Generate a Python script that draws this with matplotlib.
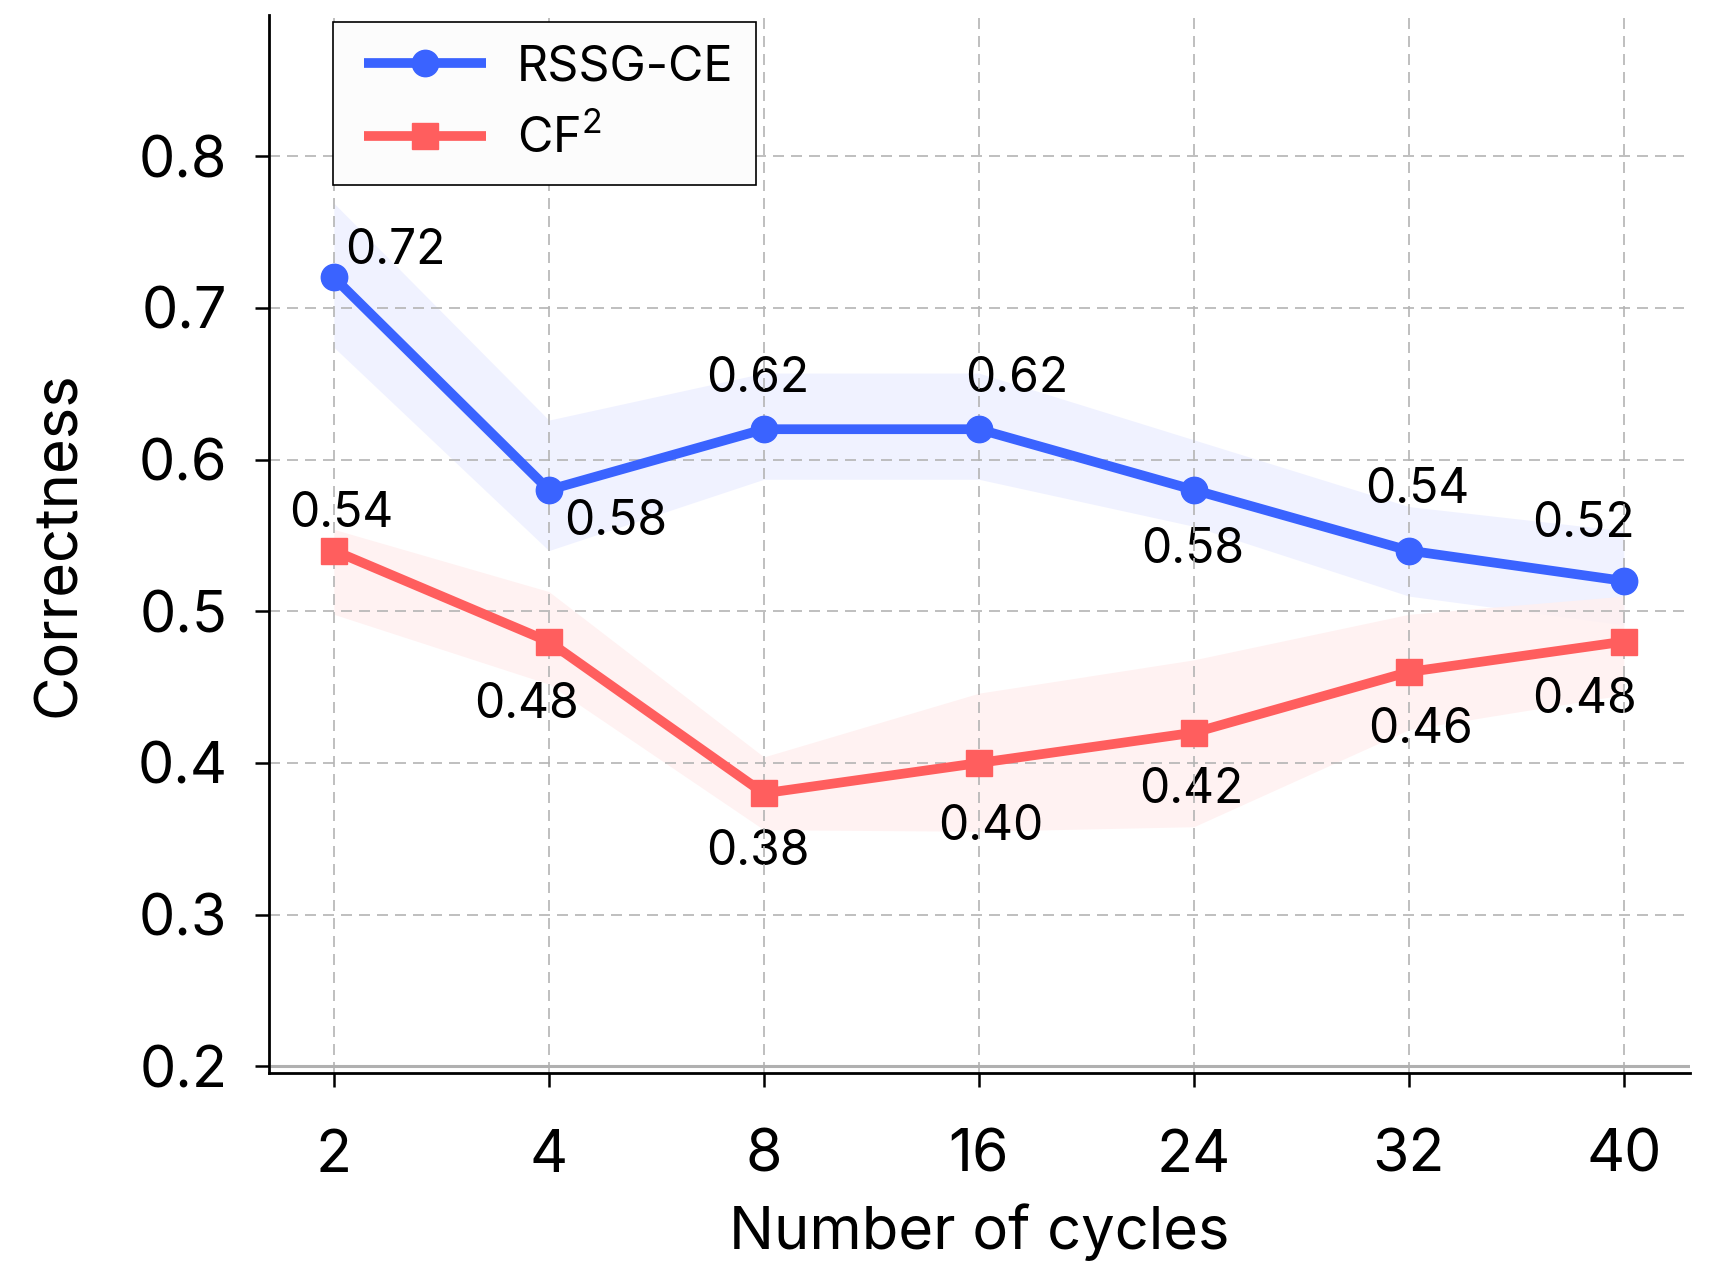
import numpy as np
import matplotlib.pyplot as plt
from matplotlib.legend_handler import HandlerLine2D

plt.rcParams['font.family'] = ['Inter', 'DejaVu Sans']
plt.rcParams['mathtext.fontset'] = 'custom'
plt.rcParams['mathtext.rm'] = 'Inter'
plt.rcParams['mathtext.it'] = 'Inter:italic'

cycles = ['2', '4', '8', '16', '24', '32', '40']

rssg_mean = [0.72, 0.58, 0.62, 0.62, 0.58, 0.54, 0.52]
rssg_low = [0.674, 0.540, 0.587, 0.587, 0.556, 0.510, 0.491]
rssg_high = [0.769, 0.626, 0.657, 0.657, 0.613, 0.569, 0.553]

cf2_mean = [0.54, 0.48, 0.38, 0.40, 0.42, 0.46, 0.48]
cf2_low = [0.498, 0.452, 0.356, 0.355, 0.358, 0.422, 0.445]
cf2_high = [0.554, 0.513, 0.404, 0.446, 0.468, 0.498, 0.510]

# label offsets in pixels (dx, dy) from each marker
rssg_offsets = [(61, 26), (67, -32), (-6, 50), (38, 50), (-1, -60), (8, 61), (-40, 57)]
cf2_offsets = [(7, 37), (-22, -63), (-6, -59), (12, -64), (-3, -57), (12, -58), (-39, -58)]

blue = '#3a63ff'
red = '#ff5e5e'


class PaddedLine(HandlerLine2D):
    # legend line drawn a bit shorter than its handle box
    def create_artists(self, legend, orig_handle, xdescent, ydescent, width, height, fontsize, trans):
        pad = 0.19 * fontsize
        return super().create_artists(legend, orig_handle, xdescent - pad, ydescent,
                                      width - 2 * pad, height, fontsize, trans)


fig = plt.figure(figsize=(17.13, 12.62), dpi=100)
ax = fig.add_axes([0.157, 0.1498, 0.8295, 0.8383])

x = np.arange(len(cycles))

ax.fill_between(x, rssg_low, rssg_high, color='#eef0ff', alpha=0.85, lw=0, zorder=1)
ax.fill_between(x, cf2_low, cf2_high, color='#fff0f0', alpha=0.85, lw=0, zorder=1)

ax.plot(x, rssg_mean, color=blue, lw=7, marker='o', ms=19, label='RSSG-CE',
        solid_capstyle='butt', zorder=3)
ax.plot(x, cf2_mean, color=red, lw=7, marker='s', ms=19, label='CF$^2$',
        solid_capstyle='butt', zorder=3)

for i, v in enumerate(rssg_mean):
    ax.annotate(f'{v:.2f}', (x[i], v), xytext=rssg_offsets[i], textcoords='offset pixels',
                ha='center', va='center', fontsize=34.5, zorder=1)
for i, v in enumerate(cf2_mean):
    ax.annotate(f'{v:.2f}', (x[i], v), xytext=cf2_offsets[i], textcoords='offset pixels',
                ha='center', va='center', fontsize=34.5, zorder=1)

ax.axhline(0.2, color='#b0b0b0', lw=2.2, zorder=1.6)

ax.set_xlim(-0.302, 6.307)
ax.set_ylim(0.1957, 0.893)
ax.set_xticks(x)
ax.set_xticklabels(cycles)
ax.set_yticks([0.2, 0.3, 0.4, 0.5, 0.6, 0.7, 0.8])

ax.grid(True, color='#b4b4b4', lw=1.2, linestyle=(0, (6.6, 4.2)))
ax.spines['top'].set_visible(False)
ax.spines['right'].set_visible(False)
for s in ['left', 'bottom']:
    ax.spines[s].set_linewidth(2)

ax.tick_params(axis='both', length=10, width=1.8, labelsize=41.5)
ax.tick_params(axis='x', pad=30, labelsize=42.5)
ax.tick_params(axis='y', pad=20)

ax.set_xlabel('Number of cycles', fontsize=43, labelpad=14)
ax.set_ylabel('Correctness', fontsize=43, labelpad=36)

leg = ax.legend(loc='upper left', bbox_to_anchor=(0.045, 0.9934), borderaxespad=0,
                fontsize=35, handlelength=2.88, handletextpad=0.45, borderpad=0.46,
                labelspacing=0.5, fancybox=False, framealpha=1, facecolor='#fcfcfc',
                edgecolor='black', handler_map={plt.Line2D: PaddedLine()})
leg.get_frame().set_linewidth(1.2)

fig.savefig('out.png', dpi=100)
